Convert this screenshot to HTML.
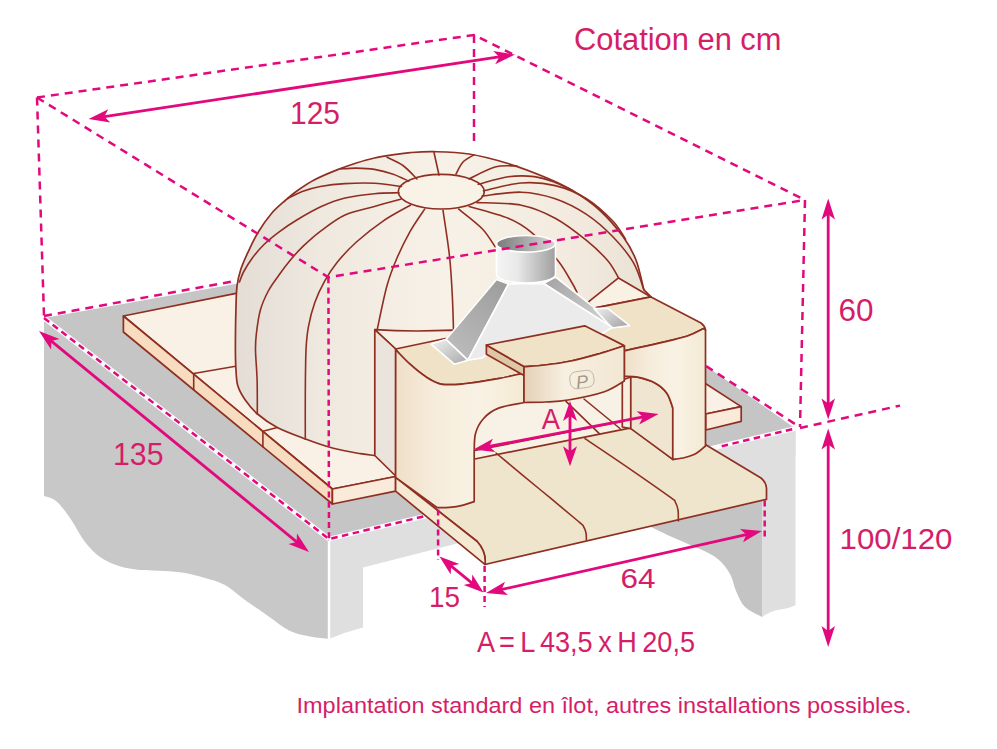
<!DOCTYPE html>
<html lang="fr">
<head>
<meta charset="utf-8">
<title>Cotation en cm</title>
<style>
html,body{margin:0;padding:0;background:#fff;}
body{width:997px;height:749px;overflow:hidden;}
svg{display:block;}
text{font-family:"Liberation Sans","DejaVu Sans",sans-serif;fill:#d51e68;}
.o{stroke:#8f2f22;stroke-width:1.7;stroke-linejoin:round;stroke-linecap:round;}
.r{stroke:#8f2f22;stroke-width:1.6;fill:none;stroke-linecap:round;}
.d{stroke:#e2097d;stroke-width:2.5;fill:none;stroke-dasharray:8 6;}
</style>
</head>
<body>
<svg width="997" height="749" viewBox="0 0 997 749">
<defs>
<linearGradient id="gDome" x1="0" y1="0" x2="1" y2="0">
<stop offset="0" stop-color="#e3ddd6"/><stop offset="0.2" stop-color="#eee8df"/><stop offset="0.5" stop-color="#f7f1e7"/><stop offset="0.8" stop-color="#f3ebdf"/><stop offset="1" stop-color="#eae1d5"/>
</linearGradient>
<linearGradient id="gFace" x1="0" y1="0" x2="1" y2="0">
<stop offset="0" stop-color="#efdfc8"/><stop offset="0.3" stop-color="#f6ecdb"/><stop offset="0.65" stop-color="#f9f2e4"/><stop offset="1" stop-color="#f4ead3"/>
</linearGradient>
<linearGradient id="gCyl" x1="0" y1="0" x2="1" y2="0">
<stop offset="0" stop-color="#f4f4f4"/><stop offset="0.35" stop-color="#e9e9e9"/><stop offset="1" stop-color="#9f9f9f"/>
</linearGradient>
<linearGradient id="gCylIn" x1="0" y1="0" x2="1" y2="0">
<stop offset="0" stop-color="#7a7a7a"/><stop offset="1" stop-color="#d8d8d8"/>
</linearGradient>
<linearGradient id="gHoodL" x1="0.8" y1="0" x2="0.2" y2="1">
<stop offset="0" stop-color="#9e9e9e"/><stop offset="1" stop-color="#bcbcbc"/>
</linearGradient>
<linearGradient id="gKey" x1="0" y1="0" x2="1" y2="0">
<stop offset="0" stop-color="#e3d1b6"/><stop offset="0.4" stop-color="#f7efe0"/><stop offset="1" stop-color="#f2e7d3"/>
</linearGradient>
<linearGradient id="gBase" x1="0" y1="0" x2="1" y2="1">
<stop offset="0" stop-color="#f2f2f2"/><stop offset="1" stop-color="#a8a8a8"/>
</linearGradient>
<linearGradient id="gHoodR" x1="0" y1="0" x2="1" y2="0.8">
<stop offset="0" stop-color="#a2a2a2"/><stop offset="1" stop-color="#d2d2d2"/>
</linearGradient>
<linearGradient id="gBaseR" x1="0" y1="0" x2="1" y2="0.7">
<stop offset="0" stop-color="#f0f0f0"/><stop offset="1" stop-color="#a8a8a8"/>
</linearGradient>
</defs>
<!-- slab -->
<g id="slab">
<polygon points="44,318 235,284 515,236 706,366 795.5,428.4 329,539" fill="#c5c5c5"/>
<path d="M44,318 L329,539 L329,639 L329.0,639.0 C325.8,638.6 316.5,637.8 310.0,636.5 C303.5,635.2 297.0,634.4 290.0,631.0 C283.0,627.6 275.5,621.2 268.0,616.0 C260.5,610.8 252.2,605.2 245.0,600.0 C237.8,594.8 231.7,588.7 225.0,585.0 C218.3,581.3 211.7,580.0 205.0,578.0 C198.3,576.0 191.8,574.2 185.0,573.0 C178.2,571.8 171.5,571.5 164.0,571.0 C156.5,570.5 147.5,570.8 140.0,570.0 C132.5,569.2 125.7,568.2 119.0,566.0 C112.3,563.8 105.7,561.0 100.0,557.0 C94.3,553.0 89.7,548.0 85.0,542.0 C80.3,536.0 76.0,527.0 72.0,521.0 C68.0,515.0 64.2,509.7 61.0,506.0 C57.8,502.3 55.8,500.7 53.0,499.0 C50.2,497.3 45.5,496.5 44.0,496.0 Z" fill="#c8c8c8"/>
<!-- right face: beam + legs -->
<polygon points="329,539 795.5,428.4 795.5,457 363,567.5 329,575" fill="#dfdfdf"/>
<path d="M329,539 L363,535 L363,627.5 Q345,632 329,639 Z" fill="#dfdfdf"/>
<path d="M700,450 L795.5,428.4 L795.5,605 Q790,608 780,609.5 Q770,611 762,617 L762,500 L700,500 Z" fill="#dfdfdf"/>
<!-- inner shadow of right leg -->
<path d="M651.0,527.0 C654.5,528.7 664.7,533.7 672.0,537.0 C679.3,540.3 688.3,544.0 695.0,547.0 C701.7,550.0 707.3,552.2 712.0,555.0 C716.7,557.8 719.8,560.5 723.0,564.0 C726.2,567.5 728.8,571.5 731.0,576.0 C733.2,580.5 733.7,585.8 736.0,591.0 C738.3,596.2 740.7,602.7 745.0,607.0 C749.3,611.3 759.2,615.3 762.0,617.0 L762,480 L700,500 Z" fill="#c4c4c4"/>
<line x1="329" y1="541" x2="329" y2="639" stroke="#ffffff" stroke-width="2.4"/>
<line x1="44" y1="318" x2="329" y2="539" stroke="#fbfbfb" stroke-width="4.8"/>
<line x1="329" y1="539" x2="795.5" y2="428.4" stroke="#fbfbfb" stroke-width="4.8"/>
</g>

<!-- base tiles -->
<g id="tiles">
<polygon class="o" points="123.4,316 236,293.4 420,300 420,470 395.6,476.5 332.4,489" fill="#f9f1e6"/>
<polygon class="o" points="123.4,316 332.4,489 332.4,504 123.4,332" fill="#f8dcc0"/>
<polygon class="o" points="332.4,489 395.6,476.5 395.6,491.2 332.4,504" fill="#f9ead9"/>
<path class="r" d="M193.7,373.5 L240,365.5 M193.7,373.5 V389.5 M262.9,431.2 L277.3,427.5 M262.9,431.2 V447"/>
<polygon class="o" points="705.7,414 741.2,406.6 700,380 690,400" fill="#f9f1e6"/>
<polygon class="o" points="705.7,414 741.2,406.6 741.2,421.3 705.7,430" fill="#f9ead9"/>
</g>

<!-- dome -->
<g id="dome">
<path class="o" fill="url(#gDome)" d="M235.8,367.0 C235.7,364.2 235.4,359.4 235.4,350.0 C235.4,340.6 235.6,320.9 235.9,310.3 C236.2,299.7 236.2,292.9 237.0,286.2 C237.8,279.5 238.8,275.7 240.6,270.0 C242.4,264.3 245.1,258.4 248.0,252.2 C250.9,245.9 254.1,238.9 258.0,232.5 C261.9,226.1 267.0,218.8 271.5,213.5 C276.0,208.2 280.9,204.3 285.2,200.5 C289.5,196.7 292.4,194.2 297.2,190.8 C302.0,187.4 307.2,183.6 314.1,180.0 C321.0,176.4 331.2,172.2 338.3,169.4 C345.4,166.6 350.4,164.9 356.4,163.0 C362.4,161.1 368.4,159.3 374.4,158.0 C380.4,156.7 386.6,155.8 392.5,154.9 C398.4,154.0 403.1,153.1 410.0,152.6 C416.9,152.1 424.1,151.5 433.9,151.7 C443.7,151.9 456.6,152.0 469.0,154.0 C481.4,156.0 495.0,159.5 508.0,163.5 C521.0,167.5 536.1,173.4 547.0,178.0 C557.9,182.6 564.6,185.7 573.4,191.0 C582.1,196.3 591.2,202.4 599.5,210.0 C607.8,217.6 616.9,228.2 623.0,236.5 C629.1,244.8 632.5,251.2 636.0,260.0 C639.5,268.9 642.5,284.7 643.8,289.6 L651,296.9 L600,330 L400,400 L374.8,455.5 L374.8,455.5 C372.4,455.2 367.3,454.9 360.4,453.7 C353.5,452.5 342.3,450.7 333.3,448.3 C324.3,445.9 315.5,442.8 306.2,439.3 C296.9,435.8 285.4,431.7 277.3,427.5 C269.2,423.3 262.9,418.6 257.5,414.0 C252.1,409.4 248.2,404.4 244.9,399.6 C241.6,394.8 239.1,390.5 237.6,385.1 C236.1,379.7 236.1,370.0 235.8,367.0 Z"/>
<ellipse class="o" cx="441.3" cy="191.7" rx="43" ry="17.3" fill="#f9f2e7"/>
<g class="r">
<path d="M439,175 L434,152.5"/>
<path d="M417.0,179.0 C414.7,176.8 408.0,169.1 403.0,165.5 C398.0,161.9 389.7,158.6 387.0,157.2"/>
<path d="M408.7,181.1 C406.0,179.9 398.2,175.8 392.5,173.9 C386.8,172.0 380.4,170.4 374.4,169.4 C368.4,168.4 362.0,168.2 356.4,168.1 C350.8,168.0 343.6,168.8 341.0,169.0"/>
<path d="M401.5,186.5 C397.0,186.0 383.8,183.8 374.4,183.3 C365.0,182.8 354.0,183.1 345.0,183.6 C336.0,184.1 327.4,185.2 320.3,186.5 C313.2,187.8 307.6,189.5 302.2,191.5 C296.8,193.5 290.4,197.3 288.0,198.5"/>
<path d="M398.8,192.8 C394.7,193.0 383.4,192.8 374.4,193.7 C365.4,194.6 353.9,195.9 345.0,198.0 C336.1,200.1 329.3,202.9 321.3,206.5 C313.3,210.1 304.2,215.5 297.2,219.7 C290.2,223.9 284.7,227.7 279.2,231.8 C273.7,235.9 268.5,240.1 264.0,244.5 C259.5,248.9 255.4,253.9 252.0,258.5 C248.6,263.1 245.6,268.1 243.5,272.0 C241.4,275.9 240.2,280.3 239.5,282.0"/>
<path d="M400.6,199.2 C396.2,200.4 383.7,203.8 374.4,206.4 C365.1,209.0 353.9,210.9 345.0,214.9 C336.1,218.9 328.3,225.4 321.3,230.6 C314.3,235.8 308.6,241.0 303.2,246.2 C297.8,251.4 292.8,257.1 288.8,261.9 C284.8,266.7 282.4,270.1 279.0,275.0 C275.6,279.9 271.4,285.1 268.3,291.0 C265.2,296.9 262.3,303.1 260.3,310.3 C258.3,317.5 257.1,327.7 256.3,334.3 C255.5,340.9 255.4,342.4 255.5,350.0 C255.6,357.6 256.8,369.3 257.1,380.0 C257.4,390.7 257.3,408.3 257.3,414.0"/>
<path d="M410.4,205.2 C405.9,207.8 392.4,214.7 383.4,220.8 C374.4,226.9 364.1,235.1 356.4,242.0 C348.7,248.9 342.7,255.5 337.4,262.1 C332.1,268.7 328.2,274.7 324.5,281.4 C320.8,288.1 317.6,294.7 314.9,302.2 C312.2,309.7 310.0,318.3 308.5,326.3 C307.0,334.3 306.5,338.7 306.0,350.0 C305.5,361.3 305.4,379.1 305.3,394.0 C305.2,408.9 305.3,431.8 305.3,439.3"/>
<path d="M424.7,209.1 C422.2,212.8 414.6,223.4 410.0,231.6 C405.4,239.8 400.9,248.9 397.0,258.0 C393.1,267.1 390.2,274.1 386.9,286.0 C383.6,297.9 378.8,322.4 377.2,329.7"/>
<path d="M443.0,210.4 C444.1,218.2 448.0,242.1 449.6,257.0 C451.2,271.9 451.9,287.8 452.5,300.0 C453.1,312.2 453.3,325.0 453.5,330.0"/>
<path d="M458.7,209.1 C462.6,212.4 476.1,222.4 482.2,228.7 C488.3,235.0 493.0,243.9 495.2,246.9"/>
<path d="M469.1,206.5 C475.6,208.4 497.8,213.8 508.2,218.2 C518.6,222.5 523.4,225.5 531.7,232.6 C540.0,239.7 551.3,252.4 558.0,260.8 C564.7,269.2 568.9,277.8 572.1,283.0 C575.3,288.2 576.2,290.8 577.0,292.3"/>
<path d="M477.0,202.6 C484.4,203.0 508.3,202.6 521.3,205.2 C534.3,207.8 544.3,212.3 555.2,218.2 C566.1,224.1 577.7,233.3 586.5,240.4 C595.3,247.5 602.7,254.8 608.0,261.0 C613.3,267.2 616.8,275.1 618.5,277.9"/>
<path d="M482.2,196.0 C488.7,195.4 509.1,191.8 521.3,192.2 C533.5,192.6 544.3,195.0 555.2,198.7 C566.1,202.4 576.9,208.0 586.5,214.3 C596.1,220.6 604.8,228.4 612.6,236.5 C620.4,244.6 628.2,253.8 633.4,262.6 C638.6,271.5 642.1,285.1 643.8,289.6"/>
<path d="M483.5,190.9 C489.8,189.6 509.3,183.9 521.3,183.0 C533.2,182.1 544.3,183.0 555.2,185.6 C566.1,188.2 576.9,192.8 586.5,198.7 C596.1,204.6 606.1,214.1 612.6,220.8 C619.1,227.5 623.4,236.1 625.6,239.1"/>
<path d="M478.2,184.3 C483.2,183.1 498.9,178.1 508.2,176.8 C517.5,175.5 526.5,175.7 534.3,176.6 C542.1,177.5 548.9,180.2 555.2,182.5 C561.5,184.8 569.2,188.9 572.0,190.2"/>
<path d="M469.0,179.0 C473.3,177.0 487.0,169.2 495.0,167.0 C503.0,164.8 513.3,166.2 517.0,166.0"/>
<path d="M456.0,174.0 C457.2,172.0 460.0,165.2 463.0,162.0 C466.0,158.8 472.2,156.0 474.0,154.8"/>
</g>
</g>
<!-- transition block + front block -->
<g id="front">
<!-- transition top face left -->
<path class="o" fill="#f8f0e4" d="M374.8,329.7 Q410,332 453.5,330.2 L470,350 L395.7,349 Z"/>
<path class="o" fill="#ebe4dc" d="M374.8,329.7 L395.7,349 L395.7,476 L374.8,455.5 Z"/>
<!-- right transition top -->
<path class="o" fill="#f9f1e4" d="M618.5,277.9 L651,296.9 L594.2,308.2 L587.8,302.3 Z"/>
<!-- right top face of front block -->
<path class="o" fill="#f0e2c7" d="M594.2,308.2 L651,296.9 L701,323 Q705,326 705.5,330 L703.6,328.5 C700.9,329.8 695.1,333.5 687.5,336.0 C679.9,338.5 668.5,340.9 658.0,343.4 C647.5,345.9 629.9,349.6 624.3,350.8 L624.3,345.8 L584.7,325.8 Z"/>
<!-- left top face -->
<path class="o" fill="#f0e2c7" d="M395.7,349 L445.4,338.5 L486.4,345 L524,366.6 L524,373.8 L520.9,373.8 C517.1,374.6 507.5,377.0 498.4,378.6 C489.3,380.2 475.7,382.6 466.3,383.5 C456.9,384.4 448.9,385.4 442.2,384.3 C435.5,383.2 431.6,380.4 426.2,377.0 C420.8,373.6 414.9,368.6 410.0,364.2 C405.1,359.8 398.8,352.9 396.5,350.6 Z"/>
<!-- interior seen through arch -->
<path fill="#f8f1e5" d="M472.2,459.5 L472.2,420 L500,395 L630.8,370 L630.8,428 Z"/>
<path class="r" d="M566,401.3 L599.6,433.8 M584,399 L620,428.5"/>
<!-- hearth -->
<path class="o" fill="#efe5cc" d="M395.6,477.4 L472.2,459.5 L631,427.8 L672.8,459.4 L704.9,444.3 L761,478 Q766,482 766.5,488 L766.5,499.4 L485,564.5 Q486.5,552 477.2,541.5 Z"/>
<!-- hearth left side strip -->
<path class="o" fill="#f4ead4" d="M395.6,477.4 L477.2,541.5 Q486.5,552 485,564.5 L482.4,562.4 L395.6,491.2 Z"/>
<path class="r" d="M472.2,451 L622.3,421.5"/>
<path class="r" d="M496.0,453.0 C503.3,459.1 526.2,478.1 540.0,489.5 C553.8,500.9 571.2,515.3 578.5,521.5 C585.8,527.7 582.2,524.6 583.5,526.5 C584.8,528.4 585.5,530.8 586.0,533.0 C586.5,535.2 586.3,538.8 586.4,540.0"/>
<path class="r" d="M585.0,438.6 C592.5,443.7 615.9,459.3 630.1,469.1 C644.3,478.9 662.7,491.7 670.2,497.2 C677.7,502.7 674.0,500.1 675.3,502.2 C676.6,504.3 677.5,506.9 678.0,510.0 C678.5,513.1 678.3,519.2 678.4,521.0"/>
<!-- inner face of right pillar -->
<path class="o" fill="#f6eedf" d="M622.3,380 L630.8,377 L630.8,428.6 L622.3,427 Z"/>
<path class="o" fill="#efe5d0" d="M630.8,377 L630.8,428.6 L672.8,459.4 L672.8,408 L672.8,408.0 C671.8,405.6 670.0,397.6 667.0,393.4 C664.0,389.2 659.9,385.7 655.0,383.0 C650.1,380.3 641.6,378.2 637.6,377.2 C633.6,376.2 631.9,377.0 630.8,377.0 Z"/>
<!-- left pillar and arch face -->
<path class="o" fill="url(#gFace)" d="M395.7,349 L395.6,477.4 L437.3,507.7 L437.3,507.7 C439.3,507.6 445.1,507.8 449.4,507.4 C453.7,507.0 459.2,506.1 463.3,505.1 C467.4,504.1 472.4,502.2 474.2,501.6 L474.2,451 L474.2,451.0 C474.4,448.1 474.0,438.8 475.5,433.4 C477.0,428.0 479.6,422.9 483.4,418.7 C487.1,414.5 491.2,411.1 498.0,408.4 C504.8,405.7 519.7,403.5 524.0,402.5 L524,373.8 L520.9,373.8 C517.1,374.6 507.5,377.0 498.4,378.6 C489.3,380.2 475.7,382.6 466.3,383.5 C456.9,384.4 448.9,385.4 442.2,384.3 C435.5,383.2 431.6,380.4 426.2,377.0 C420.8,373.6 414.9,368.6 410.0,364.2 C405.1,359.8 398.8,352.9 396.5,350.6 Z"/>
<!-- right pillar -->
<path class="o" fill="url(#gFace)" d="M624.3,350.8 L624.3,350.8 C629.9,349.6 647.5,345.9 658.0,343.4 C668.5,340.9 679.9,338.5 687.5,336.0 C695.1,333.5 700.9,329.8 703.6,328.5 L705.5,330 L705.5,446 L705.5,446.0 C703.9,447.3 699.4,451.7 696.0,453.6 C692.6,455.5 688.9,456.5 685.0,457.5 C681.1,458.5 674.8,459.1 672.8,459.4 L672.8,408 L672.8,408.0 C671.8,405.6 670.0,397.6 667.0,393.4 C664.0,389.2 659.9,385.7 655.0,383.0 C650.1,380.3 642.7,378.3 637.6,377.2 C632.5,376.1 626.5,376.4 624.3,376.3 Z"/>
</g>
<!-- chimney -->
<g id="chimney" stroke="#ffffff" stroke-width="1.6" stroke-linejoin="round">
<polygon points="431,344.1 446.2,339.3 467.9,360.2 454.3,364.2" fill="url(#gBase)"/>
<polygon points="543.6,283.5 555.5,277 596.6,309.4 612.2,327.4" fill="url(#gHoodR)"/>
<polygon points="594,308.6 607.4,308.2 629.7,325.6 612.2,328" fill="url(#gBaseR)"/>
<polygon points="496.5,279.6 508.5,284 467.9,360.2 446.2,339.3" fill="url(#gHoodL)"/>
<polygon points="508.5,284 543.6,283.5 612.2,327.4 600,335 490,352 482,358 467.9,360.2" fill="#ebebeb"/>
<path d="M496.5,244 L496.5,274.5 A29.5,8.5 0 0 0 555.5,274.5 L555.5,244 Z" fill="url(#gCyl)"/>
<ellipse cx="526" cy="243.8" rx="29.5" ry="8.3" fill="url(#gCylIn)"/>
</g>

<!-- keystone -->
<g id="key">
<polygon class="o" points="486.4,345 524,366.6 524,375.5 486.4,354.3" fill="#dcc8a6"/>
<path class="o" fill="#f0e2c7" d="M486.4,345 L584.7,325.8 L624.3,345.8 L624.3,345.8 C620.2,347.1 608.9,351.0 600.0,353.5 C591.1,356.0 580.2,359.1 571.0,361.0 C561.8,362.9 552.8,364.1 545.0,365.0 C537.2,365.9 527.5,366.3 524.0,366.6 Z"/>
<path class="o" fill="url(#gKey)" d="M524.0,366.6 C527.5,366.3 537.2,365.9 545.0,365.0 C552.8,364.1 561.8,362.9 571.0,361.0 C580.2,359.1 591.1,356.0 600.0,353.5 C608.9,351.0 620.2,347.1 624.3,345.8 L624.3,381 L624.3,381.0 C621.0,382.8 613.8,388.5 604.4,391.7 C595.0,394.9 577.9,398.3 568.0,400.0 C558.1,401.7 552.3,401.6 545.0,402.0 C537.7,402.4 527.5,402.4 524.0,402.5 Z"/>
<rect x="570" y="371" width="24" height="17" rx="6.5" ry="6.5" fill="none" stroke="#b5ac9e" stroke-width="0.8" transform="rotate(-8 582 380)"/>
<text x="576" y="388" font-family="'Liberation Serif',serif" font-style="italic" font-size="18" style="fill:#a0978a;stroke:none" transform="rotate(-6 582 380)">P</text>
</g>

<!-- dashed box -->
<g id="dash" class="d">
<path d="M37,97.5 L474,35 L805,200"/>
<path d="M37,97.5 L328.4,277.3 L805,200"/>
<path d="M37,97.5 L44,316"/>
<path d="M474,35 L474,147"/>
<path d="M328.4,277.3 L329,539" stroke-dasharray="6 4.2"/>
<path d="M805,200 L800,427"/>
<path d="M44,316 L235,281"/>
<path d="M44,318 L329,539 L424,516.4" stroke-width="2.5" stroke-dasharray="6.5 4.5"/>
<path d="M721.7,446.2 L795.5,428.4" stroke-width="2.5" stroke-dasharray="6.5 4.5"/>
<path d="M706,366 L798,426"/>
<path d="M800,428 L900,405.6"/>
<path d="M438.1,509.4 L438.1,560" stroke-dasharray="6 4"/>
<path d="M484.6,566 L484.6,607" stroke-dasharray="6 4"/>
<path d="M764.7,500.4 L764.7,539.6" stroke-dasharray="6 4"/>
</g>

<!-- labels -->
<g id="labels">
<text x="574" y="49.7" font-size="31" textLength="207.5" lengthAdjust="spacingAndGlyphs">Cotation en cm</text>
<text x="290" y="123.6" font-size="30.6" textLength="50" lengthAdjust="spacingAndGlyphs">125</text>
<text x="113" y="465.2" font-size="30.6" textLength="50.5" lengthAdjust="spacingAndGlyphs">135</text>
<text x="838.6" y="321.3" font-size="30.8" textLength="35" lengthAdjust="spacingAndGlyphs">60</text>
<text x="839.5" y="549" font-size="30" textLength="113" lengthAdjust="spacingAndGlyphs">100/120</text>
<text x="620.6" y="588" font-size="28.5" textLength="35" lengthAdjust="spacingAndGlyphs">64</text>
<text x="429" y="606.8" font-size="29.5" textLength="31" lengthAdjust="spacingAndGlyphs">15</text>
<text x="541.8" y="429" font-size="29" textLength="18.2" lengthAdjust="spacingAndGlyphs">A</text>
<text x="477" y="652" font-size="29" textLength="218" lengthAdjust="spacingAndGlyphs" style="word-spacing:-2.2px">A = L 43,5 x H 20,5</text>
<text x="296.5" y="713" font-size="22.6" textLength="615" lengthAdjust="spacingAndGlyphs">Implantation standard en îlot, autres installations possibles.</text>
</g>

<g id="arrows">
<line x1="101.2" y1="117.1" x2="502.3" y2="56.4" stroke="#e2097d" stroke-width="2.8"/><polygon points="88.5,119.0 108.3,109.2 104.3,116.6 110.3,122.5" fill="#e2097d"/><polygon points="515.0,54.5 495.2,64.3 499.2,56.9 493.2,51.0" fill="#e2097d"/>
<line x1="48.9" y1="339.1" x2="299.1" y2="543.9" stroke="#e2097d" stroke-width="2.8"/><polygon points="39.0,331.0 59.5,339.1 51.4,341.1 51.0,349.5" fill="#e2097d"/><polygon points="309.0,552.0 288.5,543.9 296.6,541.9 297.0,533.5" fill="#e2097d"/>
<line x1="828.2" y1="211.3" x2="828.2" y2="406.7" stroke="#e2097d" stroke-width="2.8"/><polygon points="828.2,198.5 835.0,219.5 828.2,214.5 821.5,219.5" fill="#e2097d"/><polygon points="828.2,419.5 821.5,398.5 828.2,403.5 835.0,398.5" fill="#e2097d"/>
<line x1="828.2" y1="441.3" x2="828.2" y2="634.2" stroke="#e2097d" stroke-width="2.8"/><polygon points="828.2,428.5 835.0,449.5 828.2,444.5 821.5,449.5" fill="#e2097d"/><polygon points="828.2,647.0 821.5,626.0 828.2,631.0 835.0,626.0" fill="#e2097d"/>
<line x1="498.5" y1="590.2" x2="749.5" y2="533.8" stroke="#e2097d" stroke-width="2.8"/><polygon points="486.0,593.0 505.0,581.8 501.6,589.5 508.0,595.0" fill="#e2097d"/><polygon points="762.0,531.0 743.0,542.2 746.4,534.5 740.0,529.0" fill="#e2097d"/>
<line x1="448.8" y1="564.1" x2="474.2" y2="584.9" stroke="#e2097d" stroke-width="2.8"/><polygon points="439.5,556.5 459.3,563.9 451.1,566.0 450.7,574.4" fill="#e2097d"/><polygon points="483.5,592.5 463.7,585.1 471.9,583.0 472.3,574.6" fill="#e2097d"/>
<line x1="486.1" y1="447.0" x2="646.0" y2="416.4" stroke="#e2097d" stroke-width="2.8"/><polygon points="473.5,449.4 492.9,438.8 489.2,446.4 495.4,452.1" fill="#e2097d"/><polygon points="658.6,414.0 639.2,424.6 642.9,417.0 636.7,411.3" fill="#e2097d"/>
<line x1="570.0" y1="413.0" x2="570.0" y2="454.3" stroke="#e2097d" stroke-width="2.8"/><polygon points="570.0,401.0 577.0,421.0 570.0,416.0 563.0,421.0" fill="#e2097d"/><polygon points="570.0,466.3 563.0,446.3 570.0,451.3 577.0,446.3" fill="#e2097d"/>

</g>
</svg>
</body>
</html>
